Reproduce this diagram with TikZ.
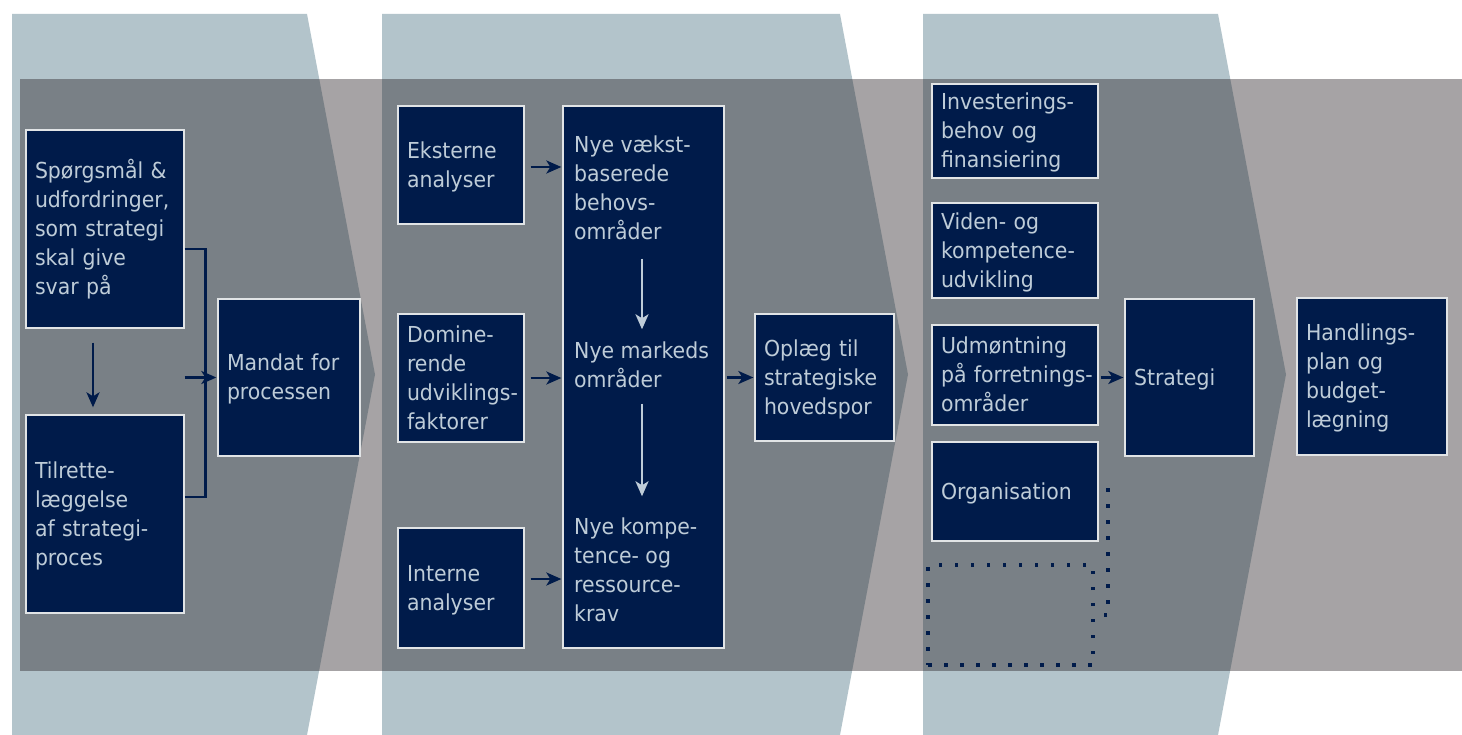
\documentclass[tikz,border=0pt]{standalone}
\usepackage{fontspec}
\setmainfont{DejaVu Sans}[FakeStretch=0.93]
\usetikzlibrary{arrows.meta}
\definecolor{chev}{RGB}{179,196,203}
\definecolor{ovl}{RGB}{40,33,37}
\definecolor{navy}{RGB}{0,27,74}
\definecolor{txt}{RGB}{190,204,216}
\definecolor{edgec}{RGB}{225,228,230}
\newcommand\mylines[1]{\raisebox{-2pt}[\height][\depth]{\begin{tabular}{@{}l@{}}#1\end{tabular}}}
\begin{document}
\begin{tikzpicture}[x=1pt,y=-1pt,
  bbox/.style={draw=edgec, line width=1.3pt, fill=navy, text=txt, align=left,
    inner xsep=9pt, inner ysep=0pt, font=\fontsize{22}{29}\selectfont},
  tnode/.style={text=txt, align=left, inner sep=0pt, anchor=west,
    font=\fontsize{22}{29}\selectfont},
  arr/.style={draw=navy, line width=2.4pt, -{Stealth[length=15pt,width=13pt,inset=4pt]}},
  inarr/.style={arr, draw=txt},
  lnk/.style={draw=navy, line width=2.4pt},
  dots/.style={draw=navy, line width=3.5pt, dash pattern=on 3.5pt off 12.5pt},
  chevron/.style={fill=chev},
  overlay/.style={fill=ovl, fill opacity=0.41}]
\useasboundingbox (0,0) rectangle (1462,735);
\fill[white] (0,0) rectangle (1462,735);
% chevrons
\fill[chevron] (12,14) -- (307,14) -- (375,374.5) -- (307,735) -- (12,735) -- cycle;
\fill[chevron] (382,14) -- (840,14) -- (908,374.5) -- (840,735) -- (382,735) -- cycle;
\fill[chevron] (923,14) -- (1218,14) -- (1286,374.5) -- (1218,735) -- (923,735) -- cycle;
% grey band
\fill[overlay] (20,79) rectangle (1462,671);

% column 1
\node[bbox, minimum width=158, minimum height=198, text width=140pt] (A) at (105,229)
  {\mylines{Spørgsmål \&\\udfordringer,\\som strategi\\skal give\\svar på}};
\node[bbox, minimum width=158, minimum height=198, text width=140pt] (B) at (105,514)
  {\mylines{Tilrette-\\læggelse\\af strategi-\\proces}};
\node[bbox, minimum width=142, minimum height=157, text width=124pt] (C) at (289,377.5)
  {\mylines{Mandat for\\processen}};
\draw[arr, shorten <=14pt, shorten >=7pt] ([xshift=-12pt]A.south) -- ([xshift=-12pt]B.north);
\draw[lnk] ([yshift=-20pt]A.east) -- ++(21,0) |- ([yshift=17pt]B.east);
\draw[arr, shorten >=1pt] (C.west -| A.east) -- (C.west);

% column 2
\node[bbox, minimum width=126, minimum height=118, text width=108pt] (D1) at (461,165)
  {\mylines{Eksterne\\analyser}};
\node[bbox, minimum width=126, minimum height=128, text width=108pt] (D2) at (461,378)
  {\mylines{Domine-\\rende\\udviklings-\\faktorer}};
\node[bbox, minimum width=126, minimum height=120, text width=108pt] (D3) at (461,588)
  {\mylines{Interne\\analyser}};
\node[bbox, minimum width=161, minimum height=542] (E) at (643.5,377) {};
\node[tnode] (e1) at (574,187.5) {Nye vækst-\\baserede\\behovs-\\områder};
\node[tnode] (e2) at (574,364.5) {Nye markeds\\områder};
\node[tnode] (e3) at (574,569.5) {Nye kompe-\\tence- og\\ressource-\\krav};
\node[bbox, minimum width=139, minimum height=127, text width=121pt] (F) at (824.5,377.5)
  {\mylines{Oplæg til\\strategiske\\hovedspor}};
\draw[arr, shorten <=6pt, shorten >=1pt] ([yshift=-2pt]D1.east) -- ([yshift=-2pt]D1.east -| E.west);
\draw[arr, shorten <=6pt, shorten >=1pt] (D2.east) -- (D2.east -| E.west);
\draw[arr, shorten <=6pt, shorten >=1pt] ([yshift=9pt]D3.east) -- ([yshift=9pt]D3.east -| E.west);
\draw[inarr, shorten <=19pt, shorten >=12pt] ([xshift=-1.5pt]e1.south -| E.center) -- ([xshift=-1.5pt]e2.north -| E.center);
\draw[inarr, shorten <=16pt, shorten >=21pt] ([xshift=-1.5pt]e2.south -| E.center) -- ([xshift=-1.5pt]e3.north -| E.center);
\draw[arr, shorten <=2pt, shorten >=1pt] (F.west -| E.east) -- (F.west);

% column 3
\node[bbox, minimum width=166, minimum height=94, text width=148pt] (G1) at (1015,131)
  {\mylines{Investerings-\\behov og\\finansiering}};
\node[bbox, minimum width=166, minimum height=95, text width=148pt] (G2) at (1015,250.5)
  {\mylines{Viden- og\\kompetence-\\udvikling}};
\node[bbox, minimum width=166, minimum height=100, text width=148pt] (G3) at (1015,375)
  {\mylines{Udmøntning\\på forretnings-\\områder}};
\node[bbox, minimum width=166, minimum height=99, text width=148pt] (G4) at (1015,491.5)
  {\mylines{Organisation}};
\node[dots, minimum width=165, minimum height=100, inner sep=0pt] (G5) at (1010.5,615) {};
\coordinate (g4d) at (1108,488);
\draw[dots] (g4d) |- (G5.east);
\node[bbox, minimum width=129, minimum height=157, text width=111pt] (H) at (1189.5,377.5)
  {\mylines{Strategi}};
\node[bbox, minimum width=150, minimum height=157, text width=132pt] (I) at (1372,376.5)
  {\mylines{Handlings-\\plan og\\budget-\\lægning}};
\draw[arr, shorten <=2pt, shorten >=1pt] (H.west -| G3.east) -- (H.west);
\end{tikzpicture}
\end{document}
